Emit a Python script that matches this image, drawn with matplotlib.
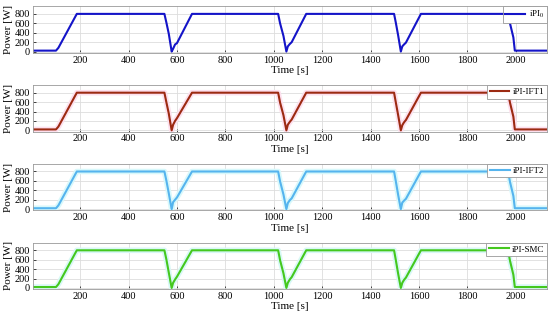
import matplotlib
matplotlib.use("Agg")
from matplotlib import pyplot as plt

# time axis shared by all controllers [s]
t = [0, 100, 110, 186, 548, 556, 566, 578, 584, 592, 600, 662,
     1018, 1026, 1040, 1052, 1058, 1066, 1074, 1134,
     1497, 1504, 1514, 1525, 1531, 1538, 1546, 1608,
     1968, 1976, 1990, 1996, 2130]

# power of each controller [W]
p_ipi0 = [20, 20, 80, 800, 800, 620, 380, 0, 60, 150, 180, 800,
          800, 600, 330, 0, 110, 160, 200, 800,
          800, 620, 340, 0, 110, 150, 190, 800,
          800, 600, 300, 20, 20]
p_ift1 = [20, 20, 80, 800, 800, 600, 360, 0, 120, 200, 260, 800,
          800, 590, 320, 0, 120, 180, 230, 800,
          800, 600, 320, 0, 110, 170, 220, 800,
          800, 590, 290, 20, 20]
p_ift2 = [20, 20, 80, 800, 800, 610, 340, 0, 150, 200, 250, 800,
          800, 590, 310, 0, 130, 190, 230, 800,
          800, 600, 300, 0, 140, 180, 220, 800,
          800, 580, 280, 20, 20]
p_smc = [20, 20, 80, 800, 800, 610, 330, 0, 110, 180, 240, 800,
         800, 590, 310, 0, 110, 180, 230, 800,
         800, 600, 300, 0, 110, 170, 220, 800,
         800, 580, 280, 20, 20]

series = [p_ipi0, p_ift1, p_ift2, p_smc]
labels = ["iPI$_0$", "iPI-IFT1", "iPI-IFT2", "iPI-SMC"]
colors = ["#1414c8", "#9c2a12", "#55b4ee", "#44c81e"]
halos = [None, "#fde0ee", "#d8f8fb", "#d8f8f6"]

plt.rcParams['font.family'] = ['Liberation Serif', 'DejaVu Serif']
plt.rcParams['mathtext.fontset'] = 'stix'

fig, axes = plt.subplots(4, 1, figsize=(5.5, 3.22), dpi=100)
fig.subplots_adjust(left=0.06, right=0.995, top=0.981, bottom=0.102, hspace=0.69)

for ax, p, lab, c, h in zip(axes, series, labels, colors, halos):
    if h is not None:
        ax.plot(t, p, color=h, lw=4, solid_capstyle='butt', zorder=1)
    ax.plot(t, p, color=c, lw=1.5, label=lab, zorder=2)
    ax.set_xlim(5, 2130)
    ax.set_ylim(-25, 965)
    ax.set_xticks([200, 400, 600, 800, 1000, 1200, 1400, 1600, 1800, 2000])
    ax.set_yticks([0, 200, 400, 600, 800])
    ax.grid(True, color='#dddddd', lw=0.6)
    ax.set_axisbelow(True)
    ax.tick_params(labelsize=7.5, length=2, width=0.5, direction='in', pad=2)
    for s in ax.spines.values():
        s.set_color('#999999')
        s.set_linewidth(0.6)
    ax.set_ylabel("Power [W]", fontsize=8, labelpad=1)
    ax.set_xlabel("Time [s]", fontsize=8, labelpad=1)
    leg = ax.legend(loc='upper right', fontsize=6.5, fancybox=False,
                    borderaxespad=0, handlelength=2.2, handletextpad=0.4,
                    borderpad=0.3, framealpha=1)
    leg.get_frame().set_edgecolor('#999999')
    leg.get_frame().set_linewidth(0.6)

plt.savefig('out.png')
